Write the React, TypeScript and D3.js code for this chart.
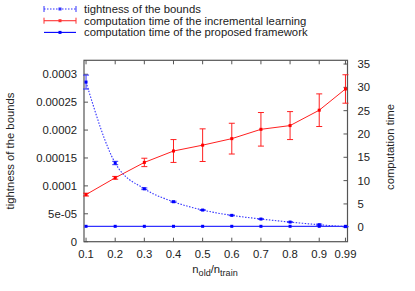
import * as d3 from 'd3'
import React, { useEffect, useRef } from 'react'

// ratio n_old / n_train
const ratios = [0.1, 0.2, 0.3, 0.4, 0.5, 0.6, 0.7, 0.8, 0.9, 0.99]
const ratioLabels = ['0.1', '0.2', '0.3', '0.4', '0.5', '0.6', '0.7', '0.8', '0.9', '0.99']

// left axis
const tightness = [0.000286, 0.000141, 0.0000948, 0.0000716, 0.0000567, 0.0000472, 0.0000406, 0.0000352, 0.0000304, 0.000027]
const tightnessErr = [0.0000125, 0.000003, 0.0000015, 0.000001, 0.0000008, 0.0000006, 0.0000005, 0.0000004, 0.0000012, 0.0000003]
const leftTicks = [0, 0.00005, 0.0001, 0.00015, 0.0002, 0.00025, 0.0003]
const leftTickLabels = ['0', '5e-05', '0.0001', '0.00015', '0.0002', '0.00025', '0.0003']

// right axis
const incrementalTime = [7.0, 10.6, 13.9, 16.35, 17.6, 19.0, 21.0, 21.8, 25.1, 29.65]
const incrementalErr = [0.3, 0.3, 0.9, 2.45, 3.5, 3.3, 3.6, 3.0, 3.5, 3.05]
const frameworkTime = [0.2, 0.2, 0.2, 0.2, 0.2, 0.2, 0.2, 0.2, 0.2, 0.2]
const rightTicks = [0, 5, 10, 15, 20, 25, 30, 35]

const seriesNames = [
  'tightness of the bounds',
  'computation time of the incremental learning',
  'computation time of the proposed framework',
]

const App = () => {
  const svgRef = useRef<any>(null)

  useEffect(() => {
    if (!svgRef.current) return
    const svg = d3.select(svgRef.current)
    svg.selectAll('*').remove()

    const left = 84, right = 347.5, top = 60.3, bottom = 241.7
    const font = '"Liberation Sans", Arial, sans-serif'
    const fs = 11.3
    const axisColor = '#555'
    const textColor = '#222'

    const x = d3.scaleLinear().domain([0.093, 0.997]).range([left, right])
    const yL = d3.scaleLinear().domain([0, 0.000325]).range([bottom, top])
    const yR = d3.scaleLinear().domain([-3.1, 35.8]).range([bottom, top])

    const g = svg.append('g')

    // ticks (inward) - bottom & top mirrored
    ratios.forEach((r, i) => {
      const px = x(r)
      g.append('line').attr('x1', px).attr('x2', px).attr('y1', bottom).attr('y2', bottom - 4)
        .attr('stroke', axisColor).attr('stroke-width', 1)
      g.append('line').attr('x1', px).attr('x2', px).attr('y1', top).attr('y2', top + 4)
        .attr('stroke', axisColor).attr('stroke-width', 1)
      g.append('text').attr('x', px).attr('y', bottom + 16.5)
        .attr('text-anchor', 'middle').attr('font-family', font).attr('font-size', fs)
        .attr('fill', textColor).text(ratioLabels[i])
    })

    leftTicks.forEach((t, i) => {
      const py = yL(t)
      g.append('line').attr('x1', left).attr('x2', left + 4).attr('y1', py).attr('y2', py)
        .attr('stroke', axisColor)
      g.append('text').attr('x', left - 7).attr('y', py + 4)
        .attr('text-anchor', 'end').attr('font-family', font).attr('font-size', fs)
        .attr('fill', textColor).text(leftTickLabels[i])
    })

    rightTicks.forEach((t) => {
      const py = yR(t)
      g.append('line').attr('x1', right).attr('x2', right - 4).attr('y1', py).attr('y2', py)
        .attr('stroke', axisColor)
      g.append('text').attr('x', right + 10).attr('y', py + 4)
        .attr('text-anchor', 'start').attr('font-family', font).attr('font-size', fs)
        .attr('fill', textColor).text(t)
    })

    // border
    g.append('rect').attr('x', left).attr('y', top)
      .attr('width', right - left).attr('height', bottom - top)
      .attr('fill', 'none').attr('stroke', axisColor).attr('stroke-width', 1.2)

    // axis titles
    g.append('text')
      .attr('transform', `translate(14, ${(top + bottom) / 2}) rotate(-90)`)
      .attr('text-anchor', 'middle').attr('font-family', font).attr('font-size', fs)
      .attr('fill', textColor).text('tightness of the bounds')
    g.append('text')
      .attr('transform', `translate(394, ${(top + bottom) / 2 - 4}) rotate(-90)`)
      .attr('text-anchor', 'middle').attr('font-family', font).attr('font-size', fs)
      .attr('fill', textColor).text('computation time')

    const xl = g.append('text').attr('x', 215).attr('y', 273)
      .attr('text-anchor', 'middle').attr('font-family', font).attr('font-size', fs)
      .attr('fill', textColor)
    xl.append('tspan').text('n')
    xl.append('tspan').attr('font-size', fs * 0.8).attr('dy', 3).text('old')
    xl.append('tspan').attr('dy', -3).text('/n')
    xl.append('tspan').attr('font-size', fs * 0.8).attr('dy', 3).text('train')

    const capW = 3

    const drawErr = (vals: number[], errs: number[], yS: any, color: string) => {
      ratios.forEach((r, i) => {
        const px = x(r)
        const y0 = yS(vals[i] - errs[i]), y1 = yS(vals[i] + errs[i])
        g.append('line').attr('x1', px).attr('x2', px).attr('y1', y0).attr('y2', y1)
          .attr('stroke', color).attr('stroke-width', 1)
        ;[y0, y1].forEach((yy) => {
          g.append('line').attr('x1', px - capW).attr('x2', px + capW).attr('y1', yy).attr('y2', yy)
            .attr('stroke', color).attr('stroke-width', 1)
        })
      })
    }

    const drawPoints = (vals: number[], yS: any, color: string) => {
      ratios.forEach((r, i) => {
        g.append('rect').attr('x', x(r) - 1.5).attr('y', yS(vals[i]) - 1.5)
          .attr('width', 3).attr('height', 3).attr('fill', color)
      })
    }

    // proposed framework (solid blue)
    const lineR = d3.line<number>().x((d, i) => x(ratios[i])).y((d) => yR(d))
    g.append('path').attr('d', lineR(frameworkTime)).attr('fill', 'none')
      .attr('stroke', '#0000ff').attr('stroke-width', 1)
    drawPoints(frameworkTime, yR, '#0000ff')

    // incremental learning (red)
    drawErr(incrementalTime, incrementalErr, yR, '#ff2020')
    g.append('path').attr('d', lineR(incrementalTime)).attr('fill', 'none')
      .attr('stroke', '#ff2020').attr('stroke-width', 1)
    drawPoints(incrementalTime, yR, '#ff0000')

    // tightness (dotted blue)
    const lineL = d3.line<number>().x((d, i) => x(ratios[i])).y((d) => yL(d))
      .curve(d3.curveMonotoneX)
    drawErr(tightness, tightnessErr, yL, '#3333ff')
    g.append('path').attr('d', lineL(tightness)).attr('fill', 'none')
      .attr('stroke', '#3333ff').attr('stroke-width', 1.1).attr('stroke-dasharray', '1.5,1.5')
    drawPoints(tightness, yL, '#0000ff')

    // legend
    const legendColors = ['#3333ff', '#ff3333', '#0000ff']
    const legendDash = ['1.5,1.5', null, null]
    const legendCaps = [true, true, false]
    seriesNames.forEach((name, i) => {
      const ly = 9 + i * 11.7
      g.append('line').attr('x1', 44).attr('x2', 76).attr('y1', ly).attr('y2', ly)
        .attr('stroke', legendColors[i]).attr('stroke-width', 1.1)
        .attr('stroke-dasharray', legendDash[i])
      if (legendCaps[i]) {
        ;[44, 76].forEach((lx) => {
          g.append('line').attr('x1', lx).attr('x2', lx).attr('y1', ly - 3).attr('y2', ly + 3)
            .attr('stroke', legendColors[i]).attr('stroke-width', 1)
        })
      }
      g.append('rect').attr('x', 58.5).attr('y', ly - 1.5).attr('width', 3).attr('height', 3)
        .attr('fill', legendColors[i])
      g.append('text').attr('x', 84).attr('y', ly + 4)
        .attr('font-family', font).attr('font-size', fs).attr('fill', textColor).text(name)
    })
  }, [])

  return (
    <div style={{ position: 'absolute', left: 0, top: 0 }}>
      <svg ref={svgRef} width={415} height={291} style={{ display: 'block', background: '#fff' }} />
    </div>
  )
}

export default App
